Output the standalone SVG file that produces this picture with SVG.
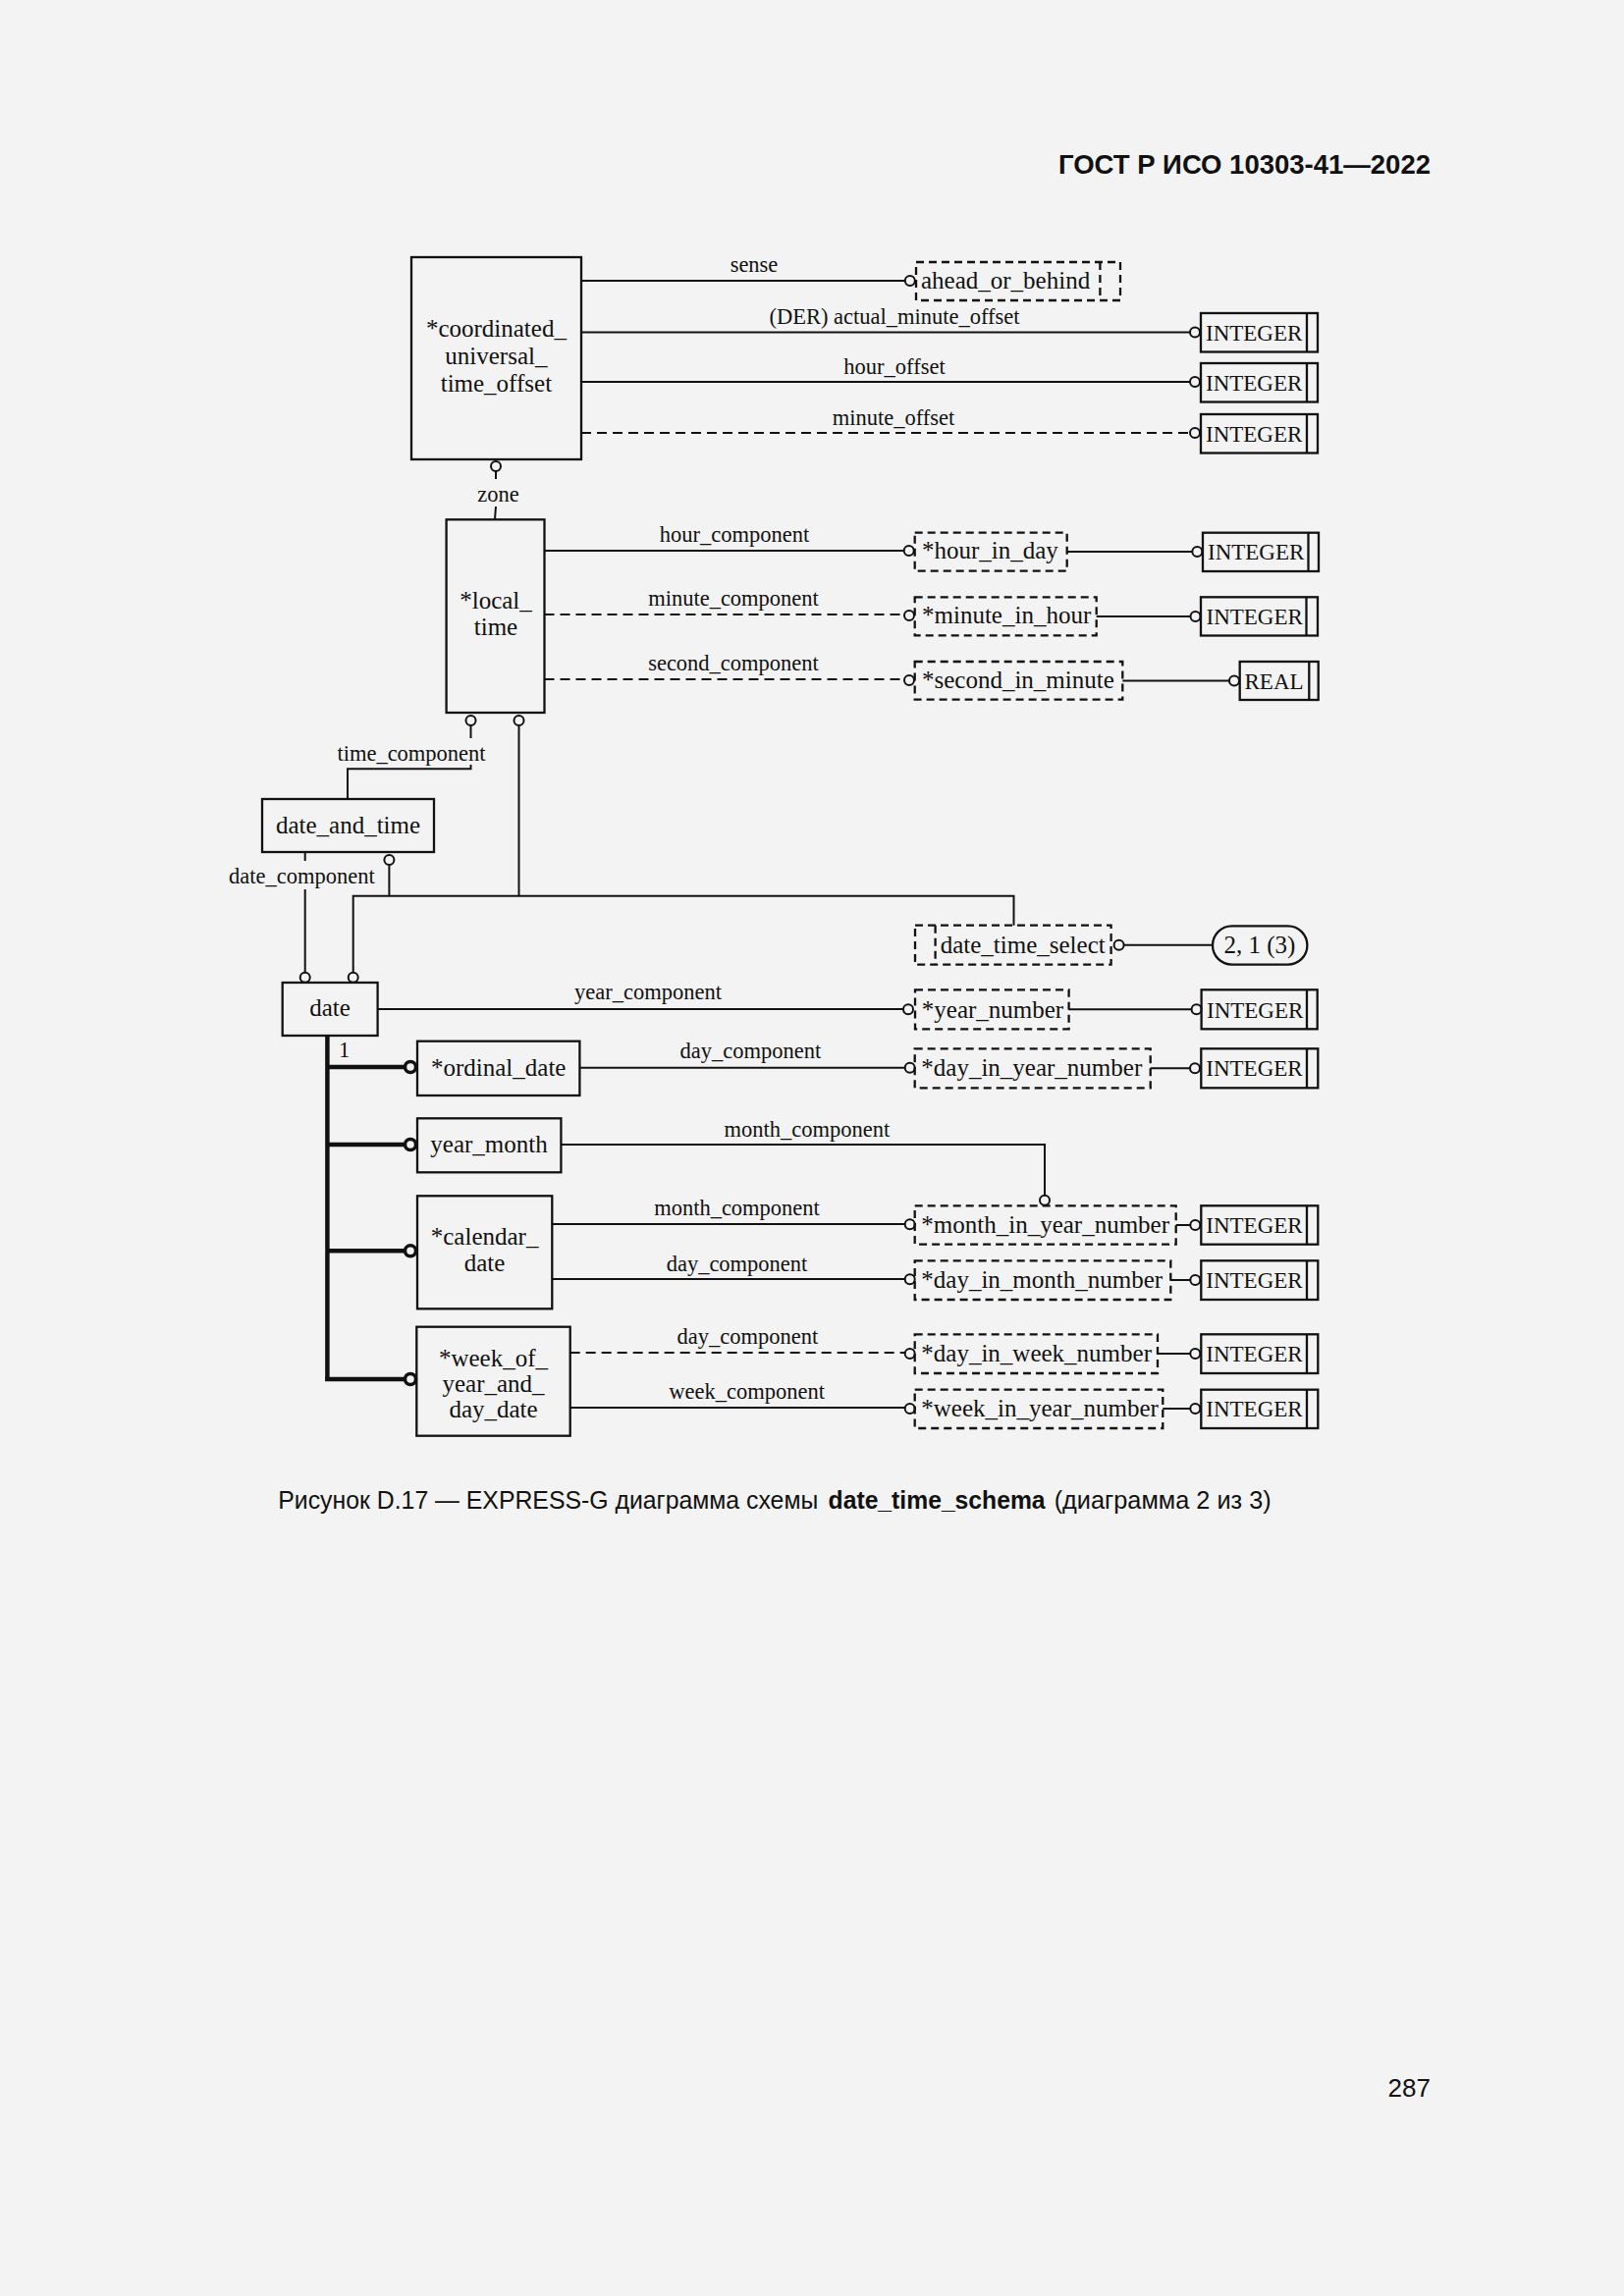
<svg xmlns="http://www.w3.org/2000/svg" width="1654" height="2339" viewBox="0 0 1654 2339">
<style>
.bg{fill:#f3f3f3}
.box{fill:none;stroke:#111;stroke-width:2.3}
.dbox{fill:none;stroke:#111;stroke-width:2.3;stroke-dasharray:8 5}
.ln{fill:none;stroke:#111;stroke-width:2}
.dln{fill:none;stroke:#111;stroke-width:2;stroke-dasharray:10 6}
.thk{fill:none;stroke:#111;stroke-width:4.5}
.c{fill:#f3f3f3;stroke:#111;stroke-width:2}
.cb{fill:#f3f3f3;stroke:#111;stroke-width:3.5}
.n{font-family:"Liberation Serif",serif;font-size:25px;fill:#111}
.m{text-anchor:middle}
.l{font-family:"Liberation Serif",serif;font-size:22.5px;fill:#111;text-anchor:middle}
.t{font-family:"Liberation Serif",serif;font-size:23px;fill:#111}
.s{font-family:"Liberation Sans",Arial,sans-serif;fill:#111}
</style>
<rect class="bg" x="0" y="0" width="1654" height="2339"/>
<text class="s" x="1457" y="177" font-size="27.5" font-weight="bold" text-anchor="end">ГОСТ Р ИСО 10303-41—2022</text>

<g id="connectors">
  <line class="ln" x1="592" y1="286" x2="921.5" y2="286"/>
  <circle class="c" cx="926.8" cy="286" r="5"/>
  <text class="l" x="768" y="277">sense</text>
  <line class="ln" x1="592" y1="338.5" x2="1212" y2="338.5"/>
  <circle class="c" cx="1217" cy="338.5" r="5"/>
  <text class="l" x="911" y="330">(DER) actual_minute_offset</text>
  <line class="ln" x1="592" y1="389" x2="1212" y2="389"/>
  <circle class="c" cx="1217" cy="389" r="5"/>
  <text class="l" x="911" y="381">hour_offset</text>
  <line class="dln" x1="592" y1="441" x2="1212" y2="441"/>
  <circle class="c" cx="1217" cy="441" r="5"/>
  <text class="l" x="910" y="433">minute_offset</text>

  <circle class="c" cx="505" cy="475" r="5"/>
  <line class="ln" x1="505" y1="480" x2="505" y2="488"/>
  <line class="ln" x1="505" y1="516" x2="504" y2="529"/>
  <text class="l" x="507.5" y="511">zone</text>

  <line class="ln" x1="554.5" y1="561" x2="920.7" y2="561"/>
  <circle class="c" cx="925.7" cy="561" r="5"/>
  <text class="l" x="748" y="552">hour_component</text>
  <line class="ln" x1="1086.7" y1="562" x2="1214.3" y2="562"/>
  <circle class="c" cx="1219.3" cy="562" r="5"/>
  <line class="dln" x1="554.5" y1="626" x2="921" y2="626"/>
  <circle class="c" cx="926" cy="627" r="5"/>
  <text class="l" x="747" y="617">minute_component</text>
  <line class="ln" x1="1116.7" y1="628" x2="1212.5" y2="628"/>
  <circle class="c" cx="1217.5" cy="628" r="5"/>
  <line class="dln" x1="554.5" y1="692" x2="921" y2="692"/>
  <circle class="c" cx="926" cy="693" r="5"/>
  <text class="l" x="747" y="683">second_component</text>
  <line class="ln" x1="1143.3" y1="693.5" x2="1252" y2="693.5"/>
  <circle class="c" cx="1257" cy="693.5" r="5"/>

  <circle class="c" cx="479.5" cy="734" r="5"/>
  <line class="ln" x1="479.5" y1="739" x2="479.5" y2="752"/>
  <polyline class="ln" points="479.5,779 479.5,783.3 354,783.3 354,814"/>
  <text class="l" x="419" y="775">time_component</text>
  <circle class="c" cx="528.5" cy="734" r="5"/>
  <line class="ln" x1="528.5" y1="739" x2="528.5" y2="912.7"/>
  <circle class="c" cx="396.4" cy="876" r="5"/>
  <line class="ln" x1="396.4" y1="881" x2="396.4" y2="912.7"/>
  <polyline class="ln" points="359.7,990.7 359.7,912.7 1032.5,912.7 1032.5,942.7"/>
  <circle class="c" cx="359.7" cy="995.7" r="5"/>
  <line class="ln" x1="310.7" y1="868" x2="310.7" y2="877"/>
  <line class="ln" x1="310.7" y1="906" x2="310.7" y2="990.7"/>
  <circle class="c" cx="310.7" cy="995.7" r="5"/>
  <text class="l" x="307.3" y="900">date_component</text>

  <circle class="c" cx="1139.6" cy="962.7" r="5"/>
  <line class="ln" x1="1144.6" y1="962.7" x2="1235" y2="962.7"/>

  <line class="ln" x1="384.6" y1="1028" x2="920" y2="1028"/>
  <circle class="c" cx="925" cy="1028.3" r="5"/>
  <text class="l" x="660" y="1018">year_component</text>
  <line class="ln" x1="1088.6" y1="1028.3" x2="1213.6" y2="1028.3"/>
  <circle class="c" cx="1218.6" cy="1028.3" r="5"/>

  <line class="thk" x1="333.4" y1="1055" x2="333.4" y2="1407"/>
  <line class="thk" x1="333.4" y1="1087" x2="411.6" y2="1087"/>
  <circle class="cb" cx="418" cy="1087" r="5.5"/>
  <line class="thk" x1="333.4" y1="1166" x2="411.6" y2="1166"/>
  <circle class="cb" cx="418" cy="1166" r="5.5"/>
  <line class="thk" x1="333.4" y1="1274.3" x2="411.6" y2="1274.3"/>
  <circle class="cb" cx="418" cy="1274.3" r="5.5"/>
  <line class="thk" x1="331.2" y1="1405" x2="411.6" y2="1405"/>
  <circle class="cb" cx="418" cy="1405" r="5.5"/>
  <text class="l" x="350.5" y="1077">1</text>

  <line class="ln" x1="590.4" y1="1087.7" x2="921.7" y2="1087.7"/>
  <circle class="c" cx="926.7" cy="1087.7" r="5"/>
  <text class="l" x="764.4" y="1078.3">day_component</text>
  <line class="ln" x1="1171.7" y1="1088.3" x2="1212" y2="1088.3"/>
  <circle class="c" cx="1217" cy="1088.3" r="5"/>

  <polyline class="ln" points="571.4,1166 1064,1166 1064,1217.7"/>
  <circle class="c" cx="1064" cy="1222.7" r="5"/>
  <text class="l" x="821.8" y="1158.3">month_component</text>

  <line class="ln" x1="562.3" y1="1247" x2="921.7" y2="1247"/>
  <circle class="c" cx="926.7" cy="1247.3" r="5"/>
  <text class="l" x="750.5" y="1238.3">month_component</text>
  <line class="ln" x1="562.3" y1="1303" x2="921.7" y2="1303"/>
  <circle class="c" cx="926.7" cy="1303.3" r="5"/>
  <text class="l" x="750.5" y="1295">day_component</text>
  <line class="ln" x1="1197.7" y1="1248" x2="1212.3" y2="1248"/>
  <circle class="c" cx="1217.3" cy="1248" r="5"/>
  <line class="ln" x1="1192.3" y1="1304" x2="1212.3" y2="1304"/>
  <circle class="c" cx="1217.3" cy="1304" r="5"/>

  <line class="dln" x1="580.7" y1="1378" x2="921.7" y2="1378"/>
  <circle class="c" cx="926.7" cy="1379" r="5"/>
  <text class="l" x="761.4" y="1369.3">day_component</text>
  <line class="ln" x1="580.7" y1="1434" x2="921.7" y2="1434"/>
  <circle class="c" cx="926.7" cy="1435" r="5"/>
  <text class="l" x="760.7" y="1425">week_component</text>
  <line class="ln" x1="1179" y1="1379" x2="1212.3" y2="1379"/>
  <circle class="c" cx="1217.3" cy="1379" r="5"/>
  <line class="ln" x1="1184.3" y1="1435" x2="1212.3" y2="1435"/>
  <circle class="c" cx="1217.3" cy="1435" r="5"/>
</g>

<g id="coordinated_universal_time_offset">
  <rect class="box" x="419" y="262" width="173" height="206"/>
  <text class="n m" x="505.4" y="343">*coordinated_</text>
  <text class="n m" x="505.4" y="371">universal_</text>
  <text class="n m" x="505.4" y="399">time_offset</text>
</g>
<g id="ahead_or_behind">
  <rect class="dbox" x="933" y="267" width="208" height="39"/>
  <line class="dbox" x1="1120.4" y1="267" x2="1120.4" y2="306"/>
  <text class="n" x="938" y="294">ahead_or_behind</text>
</g>
<g id="integer_1">
  <rect class="box" x="1223" y="319" width="119" height="39.5"/>
  <line class="box" x1="1331" y1="319" x2="1331" y2="358.5"/>
  <text class="t" x="1228" y="347">INTEGER</text>
</g>
<g id="integer_2">
  <rect class="box" x="1223" y="370" width="119" height="39.5"/>
  <line class="box" x1="1331" y1="370" x2="1331" y2="409.5"/>
  <text class="t" x="1228" y="398">INTEGER</text>
</g>
<g id="integer_3">
  <rect class="box" x="1223" y="422" width="119" height="39.5"/>
  <line class="box" x1="1331" y1="422" x2="1331" y2="461.5"/>
  <text class="t" x="1228" y="450">INTEGER</text>
</g>

<g id="local_time">
  <rect class="box" x="454.6" y="529.3" width="99.9" height="196.7"/>
  <text class="n m" x="505" y="620">*local_</text>
  <text class="n m" x="505" y="647">time</text>
</g>
<g id="hour_in_day">
  <rect class="dbox" x="931.7" y="542.7" width="155" height="39"/>
  <text class="n" x="939" y="569">*hour_in_day</text>
</g>
<g id="integer_4">
  <rect class="box" x="1225" y="542.7" width="118" height="39.3"/>
  <line class="box" x1="1332.5" y1="542.7" x2="1332.5" y2="582"/>
  <text class="t" x="1230" y="570">INTEGER</text>
</g>
<g id="minute_in_hour">
  <rect class="dbox" x="931.7" y="608.3" width="185" height="39"/>
  <text class="n" x="939" y="635">*minute_in_hour</text>
</g>
<g id="integer_5">
  <rect class="box" x="1223" y="608.3" width="119" height="39.2"/>
  <line class="box" x1="1330.5" y1="608.3" x2="1330.5" y2="647.5"/>
  <text class="t" x="1228.5" y="636">INTEGER</text>
</g>
<g id="second_in_minute">
  <rect class="dbox" x="931.7" y="674" width="211.6" height="38.7"/>
  <text class="n" x="939" y="701">*second_in_minute</text>
</g>
<g id="real">
  <rect class="box" x="1262.7" y="674" width="80" height="39"/>
  <line class="box" x1="1333.3" y1="674" x2="1333.3" y2="713"/>
  <text class="t" x="1267.5" y="702">REAL</text>
</g>

<g id="date_and_time">
  <rect class="box" x="267" y="814" width="175" height="54"/>
  <text class="n m" x="354.5" y="848.5">date_and_time</text>
</g>
<g id="date_time_select">
  <rect class="dbox" x="932" y="942.7" width="199.6" height="40"/>
  <line class="dbox" x1="952.6" y1="942.7" x2="952.6" y2="982.7"/>
  <text class="n" x="957.7" y="971">date_time_select</text>
</g>
<g id="page_ref_2_1_3">
  <rect class="box" x="1235" y="943.3" width="96.4" height="39.4" rx="19.7" ry="19.7"/>
  <text class="n m" x="1283" y="971">2, 1 (3)</text>
</g>
<g id="date">
  <rect class="box" x="287.7" y="1001" width="96.9" height="54"/>
  <text class="n m" x="336" y="1035">date</text>
</g>
<g id="year_number">
  <rect class="dbox" x="932" y="1008.3" width="156.6" height="40"/>
  <text class="n" x="938.8" y="1037">*year_number</text>
</g>
<g id="integer_6">
  <rect class="box" x="1223.6" y="1008.3" width="118.1" height="40"/>
  <line class="box" x1="1331" y1="1008.3" x2="1331" y2="1048.3"/>
  <text class="t" x="1229" y="1036.5">INTEGER</text>
</g>

<g id="ordinal_date">
  <rect class="box" x="425" y="1060.7" width="165.4" height="55.3"/>
  <text class="n m" x="507.7" y="1095.5">*ordinal_date</text>
</g>
<g id="day_in_year_number">
  <rect class="dbox" x="931.7" y="1068.3" width="240" height="40"/>
  <text class="n" x="938.3" y="1096">*day_in_year_number</text>
</g>
<g id="integer_7">
  <rect class="box" x="1223.3" y="1068.3" width="119" height="40"/>
  <line class="box" x1="1331" y1="1068.3" x2="1331" y2="1108.3"/>
  <text class="t" x="1228.3" y="1096">INTEGER</text>
</g>
<g id="year_month">
  <rect class="box" x="425" y="1139.3" width="146.4" height="55"/>
  <text class="n m" x="498" y="1173.5">year_month</text>
</g>
<g id="calendar_date">
  <rect class="box" x="425" y="1218.3" width="137.3" height="115"/>
  <text class="n m" x="493.6" y="1268">*calendar_</text>
  <text class="n m" x="493.6" y="1295">date</text>
</g>
<g id="month_in_year_number">
  <rect class="dbox" x="931.7" y="1228.3" width="266" height="39.4"/>
  <text class="n" x="938.3" y="1256">*month_in_year_number</text>
</g>
<g id="integer_8">
  <rect class="box" x="1223.3" y="1228.3" width="119" height="39.4"/>
  <line class="box" x1="1331" y1="1228.3" x2="1331" y2="1267.7"/>
  <text class="t" x="1228.3" y="1256">INTEGER</text>
</g>
<g id="day_in_month_number">
  <rect class="dbox" x="931.7" y="1284.3" width="260.6" height="39.7"/>
  <text class="n" x="938.3" y="1312">*day_in_month_number</text>
</g>
<g id="integer_9">
  <rect class="box" x="1223.3" y="1284.3" width="119" height="39.7"/>
  <line class="box" x1="1331" y1="1284.3" x2="1331" y2="1324"/>
  <text class="t" x="1228.3" y="1312">INTEGER</text>
</g>
<g id="week_of_year_and_day_date">
  <rect class="box" x="424.3" y="1351.7" width="156.4" height="111"/>
  <text class="n m" x="502.5" y="1391.5">*week_of_</text>
  <text class="n m" x="502.5" y="1418">year_and_</text>
  <text class="n m" x="502.5" y="1444">day_date</text>
</g>
<g id="day_in_week_number">
  <rect class="dbox" x="931.7" y="1359.3" width="247.3" height="39.7"/>
  <text class="n" x="938.3" y="1387">*day_in_week_number</text>
</g>
<g id="integer_10">
  <rect class="box" x="1223.3" y="1359.3" width="119" height="39.7"/>
  <line class="box" x1="1331" y1="1359.3" x2="1331" y2="1399"/>
  <text class="t" x="1228.3" y="1387">INTEGER</text>
</g>
<g id="week_in_year_number">
  <rect class="dbox" x="931.7" y="1415.7" width="252.6" height="39.3"/>
  <text class="n" x="938.3" y="1443">*week_in_year_number</text>
</g>
<g id="integer_11">
  <rect class="box" x="1223.3" y="1415.7" width="119" height="39.3"/>
  <line class="box" x1="1331" y1="1415.7" x2="1331" y2="1455"/>
  <text class="t" x="1228.3" y="1443">INTEGER</text>
</g>

<text class="s" x="283.3" y="1537" font-size="26" textLength="550" lengthAdjust="spacingAndGlyphs">Рисунок D.17 — EXPRESS-G диаграмма схемы</text>
<text class="s" x="843.6" y="1537" font-size="26" font-weight="bold" textLength="221" lengthAdjust="spacingAndGlyphs">date_time_schema</text>
<text class="s" x="1073.7" y="1537" font-size="26" textLength="221" lengthAdjust="spacingAndGlyphs">(диаграмма 2 из 3)</text>
<text class="s" x="1457" y="2136" font-size="26" text-anchor="end">287</text>
</svg>
